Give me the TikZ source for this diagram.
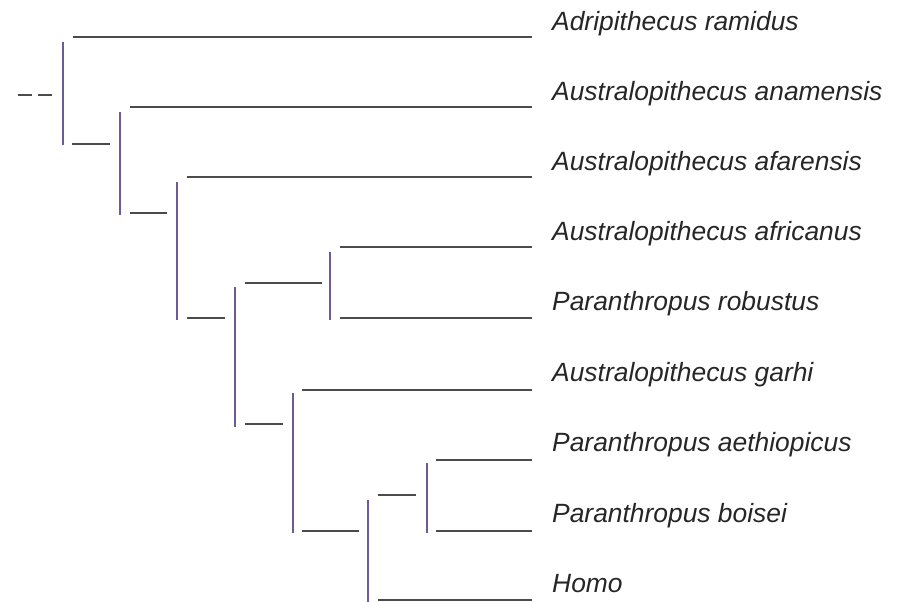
\documentclass[tikz,border=0pt]{standalone}
\usepackage{fontspec}
\setmainfont{Liberation Sans}

\begin{document}
\begin{tikzpicture}[x=1pt, y=-1pt,
		taxon/.style={
			anchor=base west,
			inner sep=0pt,
			text=black!85,
			font=\fontsize{26.4}{30}\selectfont\itshape,
		},
		branch/.style={
			line width=2.8pt,
			color=branchgray,
		},
		stem/.style={
			line width=2.6pt,
			color=stemviolet,
		},
	]

	% Couleurs
	\definecolor{branchgray}{RGB}{75,75,75}
	\definecolor{stemviolet}{RGB}{110,90,150}

	\useasboundingbox (0,0) rectangle (902,602);

	% Traits verticaux (haut / bas)
	\coordinate (v1t) at (63,42);   \coordinate (v1b) at (63,145);
	\coordinate (v2t) at (120,112); \coordinate (v2b) at (120,215);
	\coordinate (v3t) at (177,182); \coordinate (v3b) at (177,320);
	\coordinate (v4t) at (235,287); \coordinate (v4b) at (235,427);
	\coordinate (v5t) at (330,252); \coordinate (v5b) at (330,320);
	\coordinate (v6t) at (293,393); \coordinate (v6b) at (293,533);
	\coordinate (v7t) at (368,500); \coordinate (v7b) at (368,602);
	\coordinate (v8t) at (427,463); \coordinate (v8b) at (427,533);

	% Branches terminales (debut / fin)
	\coordinate (ramidus-s) at (73,37);      \coordinate (ramidus-e) at (532,37);
	\coordinate (anamensis-s) at (130,107);  \coordinate (anamensis-e) at (532,107);
	\coordinate (afarensis-s) at (187,177);  \coordinate (afarensis-e) at (532,177);
	\coordinate (africanus-s) at (340,247);  \coordinate (africanus-e) at (532,247);
	\coordinate (robustus-s) at (340,318);   \coordinate (robustus-e) at (532,318);
	\coordinate (garhi-s) at (302,390);      \coordinate (garhi-e) at (532,390);
	\coordinate (aethiop-s) at (436,460);    \coordinate (aethiop-e) at (532,460);
	\coordinate (boisei-s) at (436,531);     \coordinate (boisei-e) at (532,531);
	\coordinate (homo-s) at (378,600);       \coordinate (homo-e) at (532,600);

	% Branches internes (debut / fin)
	\coordinate (root-s) at (18,95);  \coordinate (root-e) at (52,95);
	\coordinate (h1s) at (72,144);    \coordinate (h1e) at (110,144);
	\coordinate (h2s) at (130,213);   \coordinate (h2e) at (167,213);
	\coordinate (h3s) at (187,318);   \coordinate (h3e) at (225,318);
	\coordinate (h4s) at (245,283);   \coordinate (h4e) at (322,283);
	\coordinate (h5s) at (245,424);   \coordinate (h5e) at (283,424);
	\coordinate (h6s) at (302,531);   \coordinate (h6e) at (359,531);
	\coordinate (h7s) at (378,495);   \coordinate (h7e) at (416,495);

	% Taxons
	\node[taxon] (ramidus) at (552,31) {Adripithecus ramidus};
	\node[taxon] (anamensis) at (552,100) {Australopithecus anamensis};
	\node[taxon] (afarensis) at (552,170) {Australopithecus afarensis};
	\node[taxon] (africanus) at (552,240) {Australopithecus africanus};
	\node[taxon] (robustus) at (552,310) {Paranthropus robustus};
	\node[taxon] (garhi) at (552,381) {Australopithecus garhi};
	\node[taxon] (aethiop) at (552,451) {Paranthropus aethiopicus};
	\node[taxon] (boisei) at (552,522) {Paranthropus boisei};
	\node[taxon] (homo) at (552,592) {Homo};

	% Verticales
	\draw[stem] (v1t) -- (v1b);
	\draw[stem] (v2t) -- (v2b);
	\draw[stem] (v3t) -- (v3b);
	\draw[stem] (v4t) -- (v4b);
	\draw[stem] (v5t) -- (v5b);
	\draw[stem] (v6t) -- (v6b);
	\draw[stem] (v7t) -- (v7b);
	\draw[stem] (v8t) -- (v8b);

	% Horizontales
	\draw[branch, dash pattern=on 14pt off 6pt] (root-s) -- (root-e);
	\draw[branch] (h1s) -- (h1e);
	\draw[branch] (h2s) -- (h2e);
	\draw[branch] (h3s) -- (h3e);
	\draw[branch] (h4s) -- (h4e);
	\draw[branch] (h5s) -- (h5e);
	\draw[branch] (h6s) -- (h6e);
	\draw[branch] (h7s) -- (h7e);

	\draw[branch] (ramidus-s) -- (ramidus-e);
	\draw[branch] (anamensis-s) -- (anamensis-e);
	\draw[branch] (afarensis-s) -- (afarensis-e);
	\draw[branch] (africanus-s) -- (africanus-e);
	\draw[branch] (robustus-s) -- (robustus-e);
	\draw[branch] (garhi-s) -- (garhi-e);
	\draw[branch] (aethiop-s) -- (aethiop-e);
	\draw[branch] (boisei-s) -- (boisei-e);
	\draw[branch] (homo-s) -- (homo-e);

\end{tikzpicture}
\end{document}
